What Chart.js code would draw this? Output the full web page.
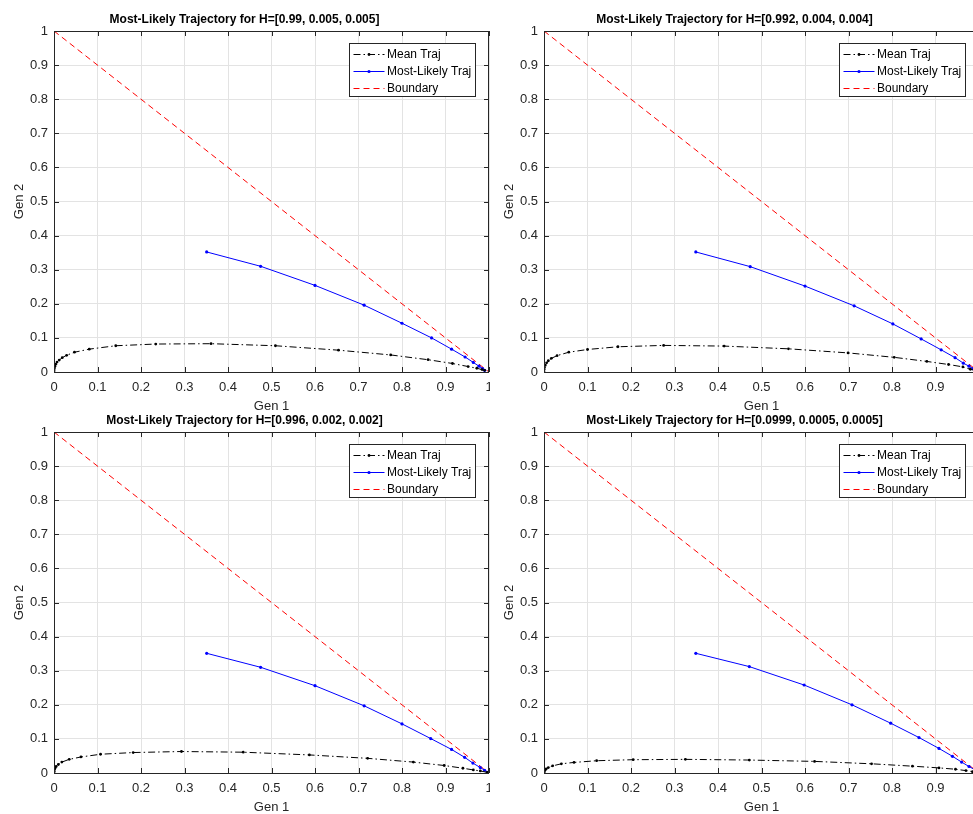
<!DOCTYPE html>
<html>
<head>
<meta charset="utf-8">
<script src="https://cdn.jsdelivr.net/npm/chart.js@4.4.0/dist/chart.umd.min.js"></script>
<style>
  html, body { margin: 0; padding: 0; background: #fff; width: 973px; height: 814px; overflow: hidden; position: relative; }
  canvas { position: absolute; }
</style>
</head>
<body>
<canvas id="c0" width="490" height="414" style="left:0;top:0"></canvas>
<canvas id="c1" width="490" height="414" style="left:490px;top:0"></canvas>
<canvas id="c2" width="490" height="414" style="left:0;top:401px"></canvas>
<canvas id="c3" width="490" height="414" style="left:490px;top:401px"></canvas>
<script>
const titles = [
  'Most-Likely Trajectory for H=[0.99, 0.005, 0.005]',
  'Most-Likely Trajectory for H=[0.992, 0.004, 0.004]',
  'Most-Likely Trajectory for H=[0.996, 0.002, 0.002]',
  'Most-Likely Trajectory for H=[0.0999, 0.0005, 0.0005]'
];
const seriesLabels = ['Mean Traj', 'Most-Likely Traj', 'Boundary'];
const axisTicks = [0, 0.1, 0.2, 0.3, 0.4, 0.5, 0.6, 0.7, 0.8, 0.9, 1];

const boundaryX = [0, 1];
const boundaryY = [1, 0];

// panel 1: H=[0.99, 0.005, 0.005]
const meanX1 = [0, 0.0003, 0.001, 0.002, 0.004, 0.007, 0.012, 0.019, 0.029, 0.047, 0.081, 0.142, 0.234, 0.361, 0.509, 0.654, 0.774, 0.86, 0.916, 0.952, 0.972, 0.984, 0.99];
const meanY1 = [0, 0.006, 0.012, 0.017, 0.023, 0.029, 0.035, 0.042, 0.049, 0.058, 0.067, 0.077, 0.082, 0.083, 0.077, 0.064, 0.05, 0.036, 0.025, 0.016, 0.011, 0.007, 0.005];
const mlX1 = [0.351, 0.475, 0.6, 0.713, 0.8, 0.868, 0.914, 0.945, 0.964, 0.977, 0.985, 0.99];
const mlY1 = [0.352, 0.31, 0.254, 0.196, 0.143, 0.1, 0.067, 0.044, 0.028, 0.017, 0.01, 0.005];

// panel 2: H=[0.992, 0.004, 0.004]
const meanX2 = [0, 0.0003, 0.001, 0.003, 0.006, 0.01, 0.017, 0.03, 0.057, 0.1, 0.17, 0.275, 0.414, 0.562, 0.699, 0.805, 0.88, 0.93, 0.963, 0.98, 0.992];
const meanY2 = [0, 0.007, 0.013, 0.02, 0.027, 0.033, 0.04, 0.048, 0.058, 0.066, 0.074, 0.078, 0.076, 0.068, 0.056, 0.043, 0.031, 0.022, 0.015, 0.008, 0.004];
const mlX2 = [0.349, 0.474, 0.6, 0.713, 0.802, 0.867, 0.913, 0.945, 0.964, 0.977, 0.986, 0.992];
const mlY2 = [0.352, 0.309, 0.252, 0.194, 0.141, 0.097, 0.065, 0.042, 0.026, 0.017, 0.01, 0.004];

// panel 3: H=[0.996, 0.002, 0.002]
const meanX3 = [0, 0.0003, 0.001, 0.002, 0.005, 0.01, 0.018, 0.035, 0.062, 0.107, 0.182, 0.293, 0.435, 0.587, 0.721, 0.826, 0.897, 0.94, 0.964, 0.98, 0.996];
const meanY3 = [0, 0.005, 0.01, 0.014, 0.019, 0.025, 0.032, 0.04, 0.047, 0.055, 0.06, 0.063, 0.061, 0.053, 0.043, 0.032, 0.022, 0.014, 0.009, 0.006, 0.002];
const mlX3 = [0.351, 0.475, 0.6, 0.713, 0.8, 0.866, 0.914, 0.944, 0.963, 0.98, 0.99, 0.996];
const mlY3 = [0.351, 0.31, 0.256, 0.197, 0.144, 0.101, 0.069, 0.046, 0.029, 0.016, 0.008, 0.002];

// panel 4: H=[0.0999, 0.0005, 0.0005]
const meanX4 = [0, 0.0005, 0.002, 0.005, 0.01, 0.02, 0.04, 0.069, 0.121, 0.205, 0.325, 0.472, 0.622, 0.753, 0.847, 0.908, 0.946, 0.97, 0.985, 0.999];
const meanY4 = [0, 0.004, 0.008, 0.012, 0.016, 0.021, 0.027, 0.031, 0.036, 0.039, 0.04, 0.038, 0.034, 0.027, 0.02, 0.015, 0.011, 0.007, 0.004, 0.0005];
const mlX4 = [0.349, 0.472, 0.598, 0.708, 0.797, 0.862, 0.908, 0.939, 0.96, 0.977, 0.99, 0.999];
const mlY4 = [0.351, 0.312, 0.258, 0.2, 0.146, 0.104, 0.072, 0.049, 0.032, 0.019, 0.01, 0.0005];

const panels = [
  { meanX: meanX1, meanY: meanY1, mlX: mlX1, mlY: mlY1 },
  { meanX: meanX2, meanY: meanY2, mlX: mlX2, mlY: mlY2 },
  { meanX: meanX3, meanY: meanY3, mlX: mlX3, mlY: mlY3 },
  { meanX: meanX4, meanY: meanY4, mlX: mlX4, mlY: mlY4 }
];

const pts = (xs, ys) => xs.map((x, i) => ({ x: x, y: ys[i] }));
const AX = '#262626';
const FONT = "'Liberation Sans', Arial, Helvetica, sans-serif";
Chart.defaults.font.family = FONT;

// MATLAB-like box with inward ticks
const boxPlugin = {
  id: 'box',
  afterDraw(chart) {
    const { ctx, chartArea: a, scales } = chart;
    ctx.save();
    ctx.strokeStyle = AX;
    ctx.lineWidth = 1;
    ctx.beginPath();
    scales.x.ticks.forEach(t => {
      const px = Math.round(scales.x.getPixelForValue(t.value)) + 0.5;
      ctx.moveTo(px, a.bottom); ctx.lineTo(px, a.bottom - 5);
      ctx.moveTo(px, a.top); ctx.lineTo(px, a.top + 5);
    });
    scales.y.ticks.forEach(t => {
      const py = Math.round(scales.y.getPixelForValue(t.value)) + 0.5;
      ctx.moveTo(a.left, py); ctx.lineTo(a.left + 5, py);
      ctx.moveTo(a.right, py); ctx.lineTo(a.right - 5, py);
    });
    ctx.stroke();
    ctx.strokeRect(Math.round(a.left) + 0.5, Math.round(a.top) + 0.5,
      Math.round(a.right - a.left) - 1, Math.round(a.bottom - a.top));
    ctx.restore();
  }
};

// legend drawn inside the axes, top right
const boxLegend = {
  id: 'boxLegend',
  afterDraw(chart) {
    const { ctx, chartArea: a } = chart;
    const w = 126, h = 53;
    const bx = Math.round(a.right - 14 - w) + 0.5, by = Math.round(a.top + 12) + 0.5;
    ctx.save();
    ctx.fillStyle = '#fff';
    ctx.fillRect(bx, by, w, h);
    ctx.strokeStyle = AX;
    ctx.lineWidth = 1;
    ctx.strokeRect(bx, by, w, h);
    ctx.font = '12px ' + FONT;
    ctx.textBaseline = 'middle';
    chart.data.datasets.forEach((ds, i) => {
      const ry = Math.round(by + 10 + i * 17) + 0.5;
      ctx.strokeStyle = ds.borderColor;
      ctx.lineWidth = ds.borderWidth;
      ctx.setLineDash(ds.borderDash || []);
      ctx.beginPath();
      ctx.moveTo(bx + 4, ry); ctx.lineTo(bx + 35, ry);
      ctx.stroke();
      ctx.setLineDash([]);
      if (ds.pointRadius > 0) {
        ctx.fillStyle = ds.pointBackgroundColor;
        ctx.beginPath();
        ctx.arc(bx + 19.5, ry, ds.pointRadius, 0, Math.PI * 2);
        ctx.fill();
      }
      ctx.fillStyle = '#000';
      ctx.fillText(ds.label, bx + 37.5, ry);
    });
    ctx.restore();
  }
};

const tickFmt = v => String(Number(v.toFixed(2)));

panels.forEach((p, k) => {
  new Chart(document.getElementById('c' + k), {
    type: 'scatter',
    data: {
      datasets: [
        {
          label: seriesLabels[0],
          data: pts(p.meanX, p.meanY),
          showLine: true,
          borderColor: '#000',
          borderWidth: 1,
          borderDash: [7, 3, 1.5, 3],
          pointRadius: 1.4,
          pointBorderWidth: 0,
          pointBackgroundColor: '#000'
        },
        {
          label: seriesLabels[1],
          data: pts(p.mlX, p.mlY),
          showLine: true,
          borderColor: '#0000ff',
          borderWidth: 1,
          pointRadius: 1.6,
          pointBorderWidth: 0,
          pointBackgroundColor: '#0000ff'
        },
        {
          label: seriesLabels[2],
          data: pts(boundaryX, boundaryY),
          showLine: true,
          borderColor: '#ff0000',
          borderWidth: 1,
          borderDash: [6, 4],
          pointRadius: 0
        }
      ]
    },
    options: {
      responsive: false,
      animation: false,
      events: [],
      layout: { autoPadding: false, padding: { left: 0, right: 1, top: 0, bottom: 0 } },
      plugins: {
        legend: { display: false },
        tooltip: { enabled: false },
        title: {
          display: true,
          text: titles[k],
          color: '#000',
          font: { size: 12, weight: 'bold', lineHeight: 1.2 },
          padding: { top: 12.3, bottom: 4.3 }
        }
      },
      scales: {
        x: {
          type: 'linear',
          min: 0,
          max: 1,
          afterBuildTicks: s => { s.ticks = axisTicks.map(v => ({ value: v })); },
          afterFit: s => { s.height = 42; s.paddingLeft = 0; s.paddingRight = 0; },
          grid: { color: '#e3e3e3', lineWidth: 1, drawTicks: false },
          border: { display: false },
          ticks: { color: AX, font: { size: 13 }, padding: 8, maxRotation: 0, autoSkip: false, callback: tickFmt },
          title: { display: true, text: 'Gen 1', color: AX, font: { size: 13 }, padding: { top: 0, bottom: 0 } }
        },
        y: {
          type: 'linear',
          min: 0,
          max: 1,
          afterBuildTicks: s => { s.ticks = axisTicks.map(v => ({ value: v })); },
          afterFit: s => { s.width = 54; s.paddingTop = 0; s.paddingBottom = 0; },
          grid: { color: '#e3e3e3', lineWidth: 1, drawTicks: false },
          border: { display: false },
          ticks: { color: AX, font: { size: 13 }, padding: 6, autoSkip: false, callback: tickFmt },
          title: { display: true, text: 'Gen 2', color: AX, font: { size: 13 }, padding: { top: 12, bottom: 0 } }
        }
      }
    },
    plugins: [boxPlugin, boxLegend]
  });
});
</script>
</body>
</html>
